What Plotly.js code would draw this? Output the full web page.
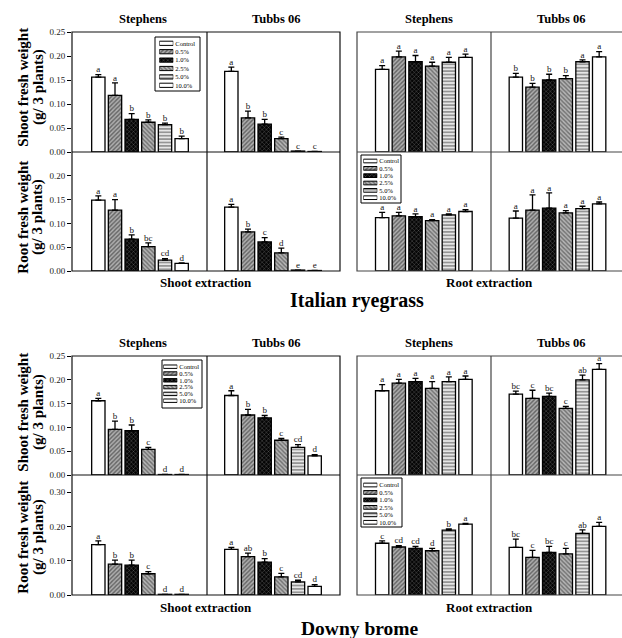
<!DOCTYPE html>
<html><head><meta charset="utf-8">
<script src="https://cdn.plot.ly/plotly-3.0.1.min.js"></script>
<style>html,body{margin:0;padding:0;background:#fff}#chart{width:622px;height:638px}</style>
</head><body><div id="chart"></div>
<script>
// ---------------- DATA ----------------
const treatments = ['Control', '0.5%', '1.0%', '2.5%', '5.0%', '10.0%'];

// Italian ryegrass — shoot fresh weight
const irShoot_SE_Steph = [0.156, 0.118, 0.068, 0.062, 0.057, 0.028];
const irShoot_SE_StephErr = [0.005, 0.026, 0.012, 0.005, 0.003, 0.005];
const irShoot_SE_StephGrp = ['a', 'a', 'b', 'b', 'b', 'b'];
const irShoot_SE_Tubbs = [0.168, 0.071, 0.058, 0.028, 0.002, 0.001];
const irShoot_SE_TubbsErr = [0.009, 0.014, 0.010, 0.003, 0.000, 0.000];
const irShoot_SE_TubbsGrp = ['a', 'b', 'b', 'c', 'c', 'c'];
const irShoot_RE_Steph = [0.172, 0.198, 0.188, 0.179, 0.187, 0.197];
const irShoot_RE_StephErr = [0.008, 0.012, 0.013, 0.008, 0.010, 0.007];
const irShoot_RE_StephGrp = ['a', 'a', 'a', 'a', 'a', 'a'];
const irShoot_RE_Tubbs = [0.156, 0.135, 0.150, 0.153, 0.188, 0.198];
const irShoot_RE_TubbsErr = [0.008, 0.008, 0.012, 0.006, 0.004, 0.011];
const irShoot_RE_TubbsGrp = ['b', 'b', 'b', 'b', 'a', 'a'];
// Italian ryegrass — root fresh weight
const irRoot_SE_Steph = [0.149, 0.128, 0.067, 0.051, 0.023, 0.016];
const irRoot_SE_StephErr = [0.009, 0.022, 0.009, 0.008, 0.003, 0.001];
const irRoot_SE_StephGrp = ['a', 'a', 'b', 'bc', 'cd', 'd'];
const irRoot_SE_Tubbs = [0.134, 0.082, 0.061, 0.038, 0.002, 0.001];
const irRoot_SE_TubbsErr = [0.006, 0.006, 0.009, 0.010, 0.000, 0.000];
const irRoot_SE_TubbsGrp = ['a', 'b', 'c', 'd', 'e', 'e'];
const irRoot_RE_Steph = [0.112, 0.116, 0.114, 0.106, 0.118, 0.125];
const irRoot_RE_StephErr = [0.011, 0.007, 0.006, 0.002, 0.002, 0.004];
const irRoot_RE_StephGrp = ['a', 'a', 'a', 'a', 'a', 'a'];
const irRoot_RE_Tubbs = [0.111, 0.128, 0.132, 0.122, 0.131, 0.141];
const irRoot_RE_TubbsErr = [0.015, 0.032, 0.032, 0.005, 0.005, 0.004];
const irRoot_RE_TubbsGrp = ['a', 'a', 'a', 'a', 'a', 'a'];
// Downy brome — shoot fresh weight
const dbShoot_SE_Steph = [0.156, 0.096, 0.093, 0.054, 0.001, 0.001];
const dbShoot_SE_StephErr = [0.005, 0.017, 0.012, 0.004, 0.000, 0.000];
const dbShoot_SE_StephGrp = ['a', 'b', 'b', 'c', 'd', 'd'];
const dbShoot_SE_Tubbs = [0.167, 0.126, 0.120, 0.073, 0.058, 0.040];
const dbShoot_SE_TubbsErr = [0.010, 0.012, 0.005, 0.004, 0.006, 0.003];
const dbShoot_SE_TubbsGrp = ['a', 'b', 'b', 'c', 'cd', 'd'];
const dbShoot_RE_Steph = [0.177, 0.193, 0.196, 0.182, 0.196, 0.201];
const dbShoot_RE_StephErr = [0.013, 0.008, 0.007, 0.014, 0.010, 0.007];
const dbShoot_RE_StephGrp = ['a', 'a', 'a', 'a', 'a', 'a'];
const dbShoot_RE_Tubbs = [0.170, 0.161, 0.165, 0.140, 0.200, 0.222];
const dbShoot_RE_TubbsErr = [0.006, 0.017, 0.007, 0.004, 0.010, 0.012];
const dbShoot_RE_TubbsGrp = ['bc', 'c', 'bc', 'c', 'ab', 'a'];
// Downy brome — root fresh weight
const dbRoot_SE_Steph = [0.147, 0.090, 0.087, 0.062, 0.002, 0.002];
const dbRoot_SE_StephErr = [0.011, 0.012, 0.015, 0.006, 0.000, 0.000];
const dbRoot_SE_StephGrp = ['a', 'b', 'b', 'c', 'd', 'd'];
const dbRoot_SE_Tubbs = [0.133, 0.112, 0.096, 0.053, 0.038, 0.025];
const dbRoot_SE_TubbsErr = [0.006, 0.010, 0.010, 0.010, 0.005, 0.005];
const dbRoot_SE_TubbsGrp = ['a', 'ab', 'b', 'c', 'cd', 'd'];
const dbRoot_RE_Steph = [0.151, 0.140, 0.136, 0.129, 0.189, 0.207];
const dbRoot_RE_StephErr = [0.007, 0.004, 0.006, 0.007, 0.004, 0.002];
const dbRoot_RE_StephGrp = ['c', 'cd', 'cd', 'd', 'b', 'a'];
const dbRoot_RE_Tubbs = [0.139, 0.110, 0.124, 0.120, 0.180, 0.200];
const dbRoot_RE_TubbsErr = [0.024, 0.020, 0.018, 0.016, 0.010, 0.012];
const dbRoot_RE_TubbsGrp = ['bc', 'c', 'bc', 'c', 'ab', 'a'];

const yTicks025 = [0, 0.05, 0.10, 0.15, 0.20, 0.25];
const yTicks020 = [0, 0.05, 0.10, 0.15, 0.20];
const yTicks030 = [0, 0.10, 0.20, 0.30];

// ---------------- STYLE ----------------
const W = 622, H = 638;
const px = x => x / W, py = y => 1 - y / H;
const serif = '"Liberation Serif","Times New Roman",Times,serif';

const fillColor = ['#ffffff', '#6a6a6a', '#050505', '#767676', '#e6e6e6', '#ffffff'];
const patShape = ['', '/', 'x', '\\', '-', ''];
const patFg = ['#000000', '#111111', '#4a4a4a', '#111111', '#262626', '#000000'];
const patSize = [4, 3, 3, 3, 3.4, 4];
const patSol = [0.3, 0.45, 0.2, 0.45, 0.5, 0.3];
const barMarker = (lw) => ({
  color: fillColor,
  line: {color: '#000', width: lw},
  pattern: {fillmode: 'overlay', shape: patShape, fgcolor: patFg, size: patSize, solidity: patSol}
});

const cols = [
  {x0: 72, x1: 207, lo: -1.58, hi: 6.52},
  {x0: 207, x1: 340, lo: -1.46, hi: 6.52},
  {x0: 357, x1: 491, lo: -1.51, hi: 6.53},
  {x0: 491, x1: 622, lo: -1.49, hi: 6.37}
];
const rows = [
  {y0: 32, y1: 152, max: 0.25, tv: yTicks025},
  {y0: 152, y1: 271, max: 0.25, tv: yTicks020},
  {y0: 356, y1: 475, max: 0.25, tv: yTicks025},
  {y0: 475, y1: 595, max: 0.35, tv: yTicks030}
];

const panels = [
  {r: 0, c: 0, m: irShoot_SE_Steph, e: irShoot_SE_StephErr, g: irShoot_SE_StephGrp},
  {r: 0, c: 1, m: irShoot_SE_Tubbs, e: irShoot_SE_TubbsErr, g: irShoot_SE_TubbsGrp},
  {r: 0, c: 2, m: irShoot_RE_Steph, e: irShoot_RE_StephErr, g: irShoot_RE_StephGrp},
  {r: 0, c: 3, m: irShoot_RE_Tubbs, e: irShoot_RE_TubbsErr, g: irShoot_RE_TubbsGrp},
  {r: 1, c: 0, m: irRoot_SE_Steph, e: irRoot_SE_StephErr, g: irRoot_SE_StephGrp},
  {r: 1, c: 1, m: irRoot_SE_Tubbs, e: irRoot_SE_TubbsErr, g: irRoot_SE_TubbsGrp},
  {r: 1, c: 2, m: irRoot_RE_Steph, e: irRoot_RE_StephErr, g: irRoot_RE_StephGrp},
  {r: 1, c: 3, m: irRoot_RE_Tubbs, e: irRoot_RE_TubbsErr, g: irRoot_RE_TubbsGrp},
  {r: 2, c: 0, m: dbShoot_SE_Steph, e: dbShoot_SE_StephErr, g: dbShoot_SE_StephGrp},
  {r: 2, c: 1, m: dbShoot_SE_Tubbs, e: dbShoot_SE_TubbsErr, g: dbShoot_SE_TubbsGrp},
  {r: 2, c: 2, m: dbShoot_RE_Steph, e: dbShoot_RE_StephErr, g: dbShoot_RE_StephGrp},
  {r: 2, c: 3, m: dbShoot_RE_Tubbs, e: dbShoot_RE_TubbsErr, g: dbShoot_RE_TubbsGrp},
  {r: 3, c: 0, m: dbRoot_SE_Steph, e: dbRoot_SE_StephErr, g: dbRoot_SE_StephGrp},
  {r: 3, c: 1, m: dbRoot_SE_Tubbs, e: dbRoot_SE_TubbsErr, g: dbRoot_SE_TubbsGrp},
  {r: 3, c: 2, m: dbRoot_RE_Steph, e: dbRoot_RE_StephErr, g: dbRoot_RE_StephGrp},
  {r: 3, c: 3, m: dbRoot_RE_Tubbs, e: dbRoot_RE_TubbsErr, g: dbRoot_RE_TubbsGrp}
];

const layout = {
  width: W, height: H, margin: {l: 0, r: 0, t: 0, b: 0},
  paper_bgcolor: '#fff', plot_bgcolor: 'rgba(0,0,0,0)',
  showlegend: false, barmode: 'overlay', bargap: 0.2,
  font: {family: serif, color: '#000'},
  annotations: [], shapes: []
};
const traces = [];

panels.forEach(p => {
  const n = p.r * 4 + p.c + 1;
  const sx = n === 1 ? '' : String(n);
  const col = cols[p.c], row = rows[p.r];
  layout['xaxis' + sx] = {
    domain: [px(col.x0), Math.min(1, px(col.x1))], range: [col.lo, col.hi],
    type: 'category', categoryorder: 'array', categoryarray: treatments,
    visible: false, anchor: 'y' + sx, fixedrange: true
  };
  const ya = {
    domain: [py(row.y1), py(row.y0)], range: [0, row.max], anchor: 'x' + sx,
    showgrid: false, zeroline: false, showline: false, fixedrange: true
  };
  if (p.c === 0) {
    Object.assign(ya, {
      ticks: 'outside', ticklen: 4, tickwidth: 1, tickcolor: '#000',
      tickvals: row.tv, ticktext: row.tv.map(v => v.toFixed(2)),
      tickfont: {size: 9, family: serif, color: '#222'}
    });
  } else {
    Object.assign(ya, {showticklabels: false, ticks: ''});
  }
  layout['yaxis' + sx] = ya;

  traces.push({
    type: 'bar', xaxis: 'x' + sx, yaxis: 'y' + sx, x: treatments, y: p.m,
    marker: barMarker(1.3),
    error_y: {type: 'data', symmetric: false, array: p.e, arrayminus: p.e.map(() => 0),
      color: '#000', thickness: 1.3, width: 3},
    hoverinfo: 'skip'
  });
  traces.push({
    type: 'scatter', mode: 'text', xaxis: 'x' + sx, yaxis: 'y' + sx,
    x: treatments, y: p.m.map((v, i) => v + p.e[i]), text: p.g,
    textposition: 'top center', textfont: {family: serif, size: 9, color: '#111'},
    cliponaxis: false, hoverinfo: 'skip'
  });
});

// ---------------- LEGEND KEYS (four boxed keys) ----------------
const keys = [
  {box: [155, 37, 200, 91], sw: [159.3, 173.3], rc: [43.3, 85.3]},
  {box: [361, 155, 401, 203], sw: [363.3, 377.3], rc: [161, 197.7]},
  {box: [162, 360, 202, 408], sw: [163.3, 177.3], rc: [366.7, 400.7]},
  {box: [361, 478, 402, 527], sw: [363.3, 377.3], rc: [485, 522.3]}
];
keys.forEach((K, i) => {
  const n = 17 + i, s = (K.rc[1] - K.rc[0]) / 5;
  layout['xaxis' + n] = {domain: [px(K.sw[0]), px(K.sw[1])], range: [0, 1], visible: false,
    anchor: 'y' + n, fixedrange: true};
  layout['yaxis' + n] = {
    domain: [py(K.rc[1] + s / 2), py(K.rc[0] - s / 2)], type: 'category',
    categoryorder: 'array', categoryarray: treatments, autorange: 'reversed',
    tickmode: 'array', tickvals: treatments, ticktext: treatments,
    side: 'right', anchor: 'x' + n, ticks: '', showline: false, showgrid: false,
    zeroline: false, tickfont: {size: 6.5, family: serif, color: '#000'},
    ticklabelstandoff: 1, fixedrange: true
  };
  traces.push({
    type: 'bar', orientation: 'h', xaxis: 'x' + n, yaxis: 'y' + n,
    y: treatments, x: treatments.map(() => 1), width: 0.5,
    marker: barMarker(1), hoverinfo: 'skip'
  });
  layout.shapes.push({type: 'rect', xref: 'paper', yref: 'paper', layer: 'above',
    x0: px(K.box[0]), x1: px(K.box[2]), y0: py(K.box[3]), y1: py(K.box[1]),
    line: {color: '#000', width: 1}});
});

// ---------------- FRAMES ----------------
const groups = [{x0: 72, x1: 340, xm: 207, c: '#111'}, {x0: 357, x1: 626, xm: 491, c: '#444'}];
const halves = [{y0: 32, ym: 152, y1: 271}, {y0: 356, ym: 475, y1: 595}];
groups.forEach(g => halves.forEach(h => {
  const ln = {color: g.c, width: 1.2};
  layout.shapes.push({type: 'rect', xref: 'paper', yref: 'paper', layer: 'above',
    x0: px(g.x0), x1: px(g.x1), y0: py(h.y1), y1: py(h.y0), line: ln});
  layout.shapes.push({type: 'line', xref: 'paper', yref: 'paper', layer: 'above',
    x0: px(g.xm), x1: px(g.xm), y0: py(h.y1), y1: py(h.y0), line: ln});
  layout.shapes.push({type: 'line', xref: 'paper', yref: 'paper', layer: 'above',
    x0: px(g.x0), x1: px(g.x1), y0: py(h.ym), y1: py(h.ym), line: ln});
}));

// ---------------- TEXT ----------------
function ann(text, x, y, size, extra) {
  layout.annotations.push(Object.assign({
    text: text, xref: 'paper', yref: 'paper', x: px(x), y: py(y),
    xanchor: 'center', yanchor: 'middle', showarrow: false,
    font: {family: serif, size: size, color: '#000', weight: 'bold'}
  }, extra || {}));
}
[19.5, 343.5].forEach(y => {
  ann('Stephens', 143, y, 12.5);
  ann('Tubbs 06', 276, y, 12.5);
  ann('Stephens', 428.5, y, 12.5);
  ann('Tubbs 06', 561, y, 12.5);
});
ann('Shoot extraction', 206, 283, 13);
ann('Root extraction', 489, 283, 13);
ann('Shoot extraction', 206, 607.5, 13);
ann('Root extraction', 489, 607.5, 13);
ann('Italian ryegrass', 357, 300, 20);
ann('Downy brome', 360, 628.5, 19.5);
[[87, 'Shoot fresh weight'], [217, 'Root fresh weight'], [412, 'Shoot fresh weight'], [537, 'Root fresh weight']].forEach(([y, t]) => {
  ann(t, 22.7, y, 15, {textangle: -90});
  ann('(g/ 3 plants)', 38, y, 15, {textangle: -90});
});

Plotly.newPlot('chart', traces, layout, {displayModeBar: false, staticPlot: true});
</script></body></html>
